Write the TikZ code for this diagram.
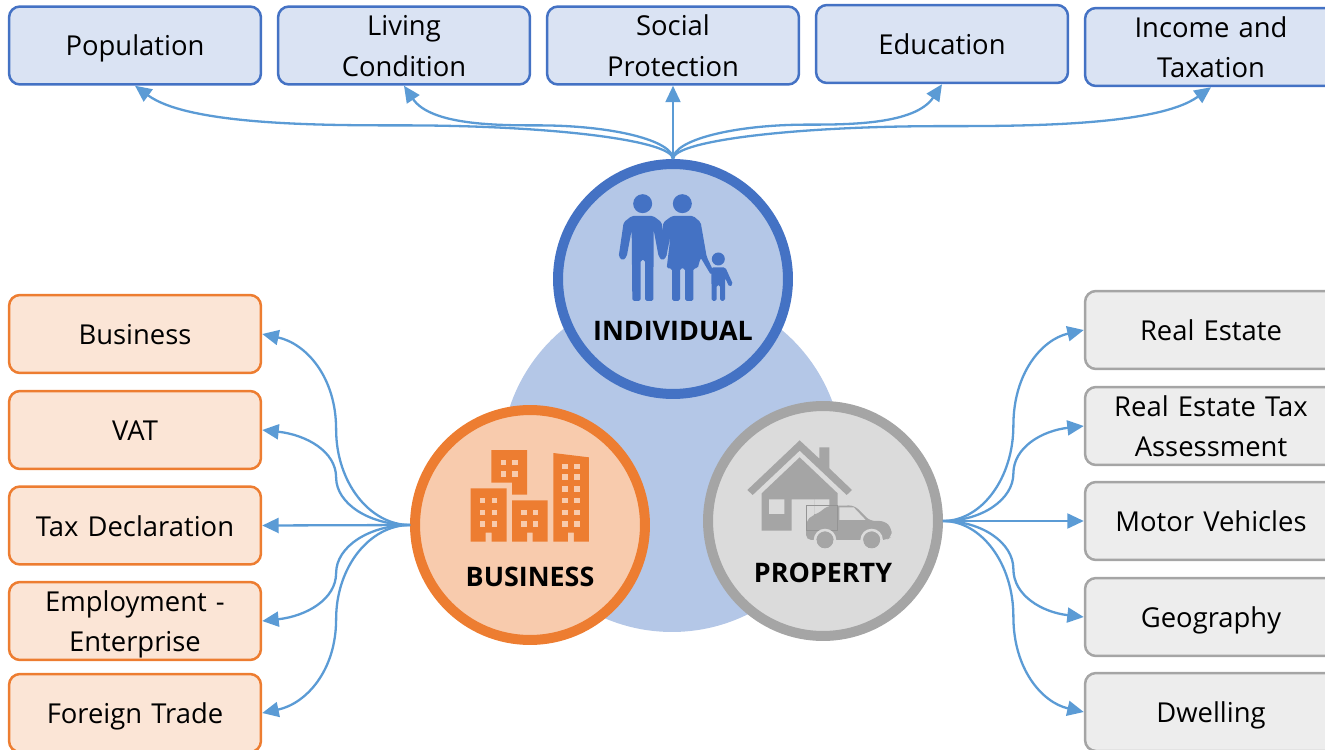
\documentclass[tikz,border=0pt]{standalone}
\usepackage{fontspec}
\setmainfont{Open Sans}
\usetikzlibrary{arrows.meta,calc}
\definecolor{link}{HTML}{5B9BD5}
\definecolor{indline}{HTML}{4472C4}
\definecolor{indfill}{HTML}{B4C7E7}
\definecolor{indbox}{HTML}{DAE3F3}
\definecolor{busline}{HTML}{ED7D31}
\definecolor{busfill}{HTML}{F8CBAD}
\definecolor{busbox}{HTML}{FBE5D6}
\definecolor{proline}{HTML}{A5A5A5}
\definecolor{profill}{HTML}{DBDBDB}
\definecolor{probox}{HTML}{EDEDED}
\tikzset{
    topic/.style={draw, line width=0.05cm, rounded corners=0.22cm, minimum width=5.04cm, minimum height=1.56cm, text width=4.8cm, align=center, font=\fontsize{15.6}{23}\selectfont, inner sep=0pt, execute at begin node={\rule{0pt}{15.4pt}}, execute at end node={\rule[-3.4pt]{0pt}{3.4pt}}},
    indtopic/.style={topic, draw=indline, fill=indbox},
    bustopic/.style={topic, draw=busline, fill=busbox},
    protopic/.style={topic, draw=proline, fill=probox},
    hub/.style={circle, line width=0.2cm, minimum size=4.6cm, inner sep=0pt},
    hublabel/.style={font=\fontsize{15.3}{18}\selectfont\bfseries, inner sep=0pt},
    flow/.style={link, line width=0.046cm, -{Triangle[length=0.33cm,width=0.3cm]}}
}
\begin{document}
\begin{tikzpicture}[x=0.02cm,y=-0.02cm]
    \useasboundingbox (0,0) rectangle (1325,750);

    % Centre disc
    \fill[indfill] (672,461) circle (3.42cm);

    % Topic boxes
    \node[indtopic] (population) at (135,45.5) {Population};
    \node[indtopic] (living) at (404,45.5) {Living\\Condition};
    \node[indtopic] (social) at (673,45.5) {Social\\Protection};
    \node[indtopic] (education) at (942,44) {Education};
    \node[indtopic] (income) at (1211,47) {Income and\\Taxation};

    \node[bustopic] (business) at (135,334) {Business};
    \node[bustopic] (vat) at (135,430) {VAT};
    \node[bustopic] (tax) at (135,525.5) {Tax Declaration};
    \node[bustopic] (employment) at (135,621) {Employment -\\Enterprise};
    \node[bustopic] (foreign) at (135,713) {Foreign Trade};

    \node[protopic] (realestate) at (1211,330) {Real Estate};
    \node[protopic] (assessment) at (1211,426) {Real Estate Tax\\Assessment};
    \node[protopic] (motor) at (1211,521) {Motor Vehicles};
    \node[protopic] (geography) at (1211,617) {Geography};
    \node[protopic] (dwelling) at (1211,712) {Dwelling};

    % Hubs
    \node[hub, draw=indline, fill=indfill] (individual) at (673,279) {};
    \node[hub, draw=busline, fill=busfill] (company) at (530,525) {};
    \node[hub, draw=proline, fill=profill] (property) at (823,521) {};

    \node[hublabel] (individuallabel) at (673,331) {INDIVIDUAL};
    \node[hublabel] (companylabel) at (530,577) {BUSINESS};
    \node[hublabel] (propertylabel) at (823,573) {PROPERTY};

    % Connectors
    \foreach \t in {population,living,education,income} {
        \coordinate (a) at (individual.north);
        \coordinate (b) at (\t.south);
        \coordinate (m) at ($(a)!0.5!(b)+(0,3)$);
        \draw[flow] (a) .. controls ($(a)!0.55!(a |- m)$) and ($(m)!0.55!(a |- m)$) .. (m)
            .. controls ($(m)!0.3!(b |- m)$) and ($(b |- m)!0.2!(m)$) .. (b);
    }
    \draw[flow] (individual.north) -- (social.south);
    \foreach \t in {business,vat,employment,foreign} {
        \coordinate (a) at (company.west);
        \coordinate (b) at (\t.east);
        \coordinate (m) at ($(a)!0.5!(b)$);
        \draw[flow] (a) .. controls ($(a)!0.55!(m |- a)$) and ($(m)!0.55!(m |- a)$) .. (m)
            .. controls ($(m)!0.55!(m |- b)$) and ($(b)!0.55!(m |- b)!0.1!(m)$) .. (b);
    }
    \draw[flow] (company.west) -- (tax.east);
    \foreach \t in {realestate,assessment,geography,dwelling} {
        \coordinate (a) at (property.east);
        \coordinate (b) at (\t.west);
        \coordinate (m) at ($(a)!0.5!(b)$);
        \draw[flow] (a) .. controls ($(a)!0.55!(m |- a)$) and ($(m)!0.55!(m |- a)$) .. (m)
            .. controls ($(m)!0.55!(m |- b)$) and ($(b)!0.55!(m |- b)!0.1!(m)$) .. (b);
    }
    \draw[flow] (property.east) -- (motor.west);

    % People
    \begin{scope}[shift={(610,185)},x=0.02cm/3,y=-0.02cm/3]
        \fill[indline] (98,56) circle (0.19cm) (217,56) circle (0.19cm) (325,222) circle (0.13cm);
        \fill[indline, rounded corners=1pt] (65,93) -- (130,93) -- (155,112) -- (170,215) -- (157,227) -- (146,215) -- (131,135) -- (130,348) -- (105,348) -- (105,225) -- (92,225) -- (92,348) -- (67,348) -- (65,135) -- (50,215) -- (38,227) -- (26,215) -- (41,112) -- cycle;
        \fill[indline, rounded corners=1pt] (186,93) -- (250,93) -- (272,112) -- (290,215) -- (312,262) -- (303,270) -- (272,218) -- (263,250) -- (250,250) -- (250,348) -- (225,348) -- (225,250) -- (210,250) -- (210,348) -- (186,348) -- (186,250) -- (170,250) -- (182,150) -- (168,218) -- (157,150) -- (160,112) -- cycle;
        \fill[indline, rounded corners=1pt] (304,247) -- (346,247) -- (369,298) -- (358,306) -- (345,278) -- (345,348) -- (330,348) -- (330,300) -- (320,300) -- (320,348) -- (305,348) -- cycle;
    \end{scope}

    % Buildings
    \begin{scope}[shift={(400,400)},x=0.02cm/3,y=-0.02cm/3]
        \fill[busline] (274,150) -- (381,150) -- (381,284) -- (336,284) -- (336,248) -- (274,248) -- cycle;
        \fill[busline] (212,265) -- (320,265) -- (320,425) -- (275,425) -- (275,398) -- (257,398) -- (257,425) -- (212,425) -- cycle;
        \fill[busline] (336,301) -- (443,301) -- (443,425) -- (398,425) -- (398,398) -- (381,398) -- (381,425) -- (336,425) -- cycle;
        \fill[busline] (460,159) -- (567,172) -- (567,425) -- (522,425) -- (522,398) -- (504,398) -- (504,425) -- (460,425) -- cycle;
        \foreach \wx/\wy in {302/179,337/179,302/213,337/213,239/293,275/293,239/329,275/329,239/364,275/364,363/329,398/329,363/364,398/364,487/191,522/191,487/222,522/222,487/258,522/258,487/293,522/293,487/329,522/329,487/364,522/364}
            \fill[busfill] (\wx,\wy) rectangle ++(17,17);
    \end{scope}

    % House and car
    \begin{scope}[shift={(695,400)},x=0.02cm/3,y=-0.02cm/3]
        \fill[proline] (157,270) -- (314,121) -- (373,176) -- (373,142) -- (403,142) -- (403,205) -- (471,270) -- (455,285) -- (314,152) -- (173,285) -- cycle;
        \fill[proline] (200,280) -- (314,172) -- (428,280) -- (428,392) -- (358,392) -- (358,298) -- (290,298) -- (290,392) -- (200,392) -- cycle;
        \fill[profill] (222,298) rectangle (268,342) (358,298) rectangle (403,342);
        \fill[proline, rounded corners=3pt] (333,420) -- (333,365) -- (352,345) -- (372,340) -- (395,318) -- (478,316) -- (525,363) -- (570,363) -- (590,385) -- (590,410) -- (575,420) -- cycle;
        \fill[profill] (433,322) -- (476,322) -- (512,360) -- (433,360) -- cycle;
        \draw[proline!90!black, line width=0.01cm] (335,316) rectangle (428,390);
        \fill[proline] (390,420) circle (0.17cm) (530,420) circle (0.17cm);
        \draw[profill, line width=0.05cm] (390,420) circle (0.2cm) (530,420) circle (0.2cm);
    \end{scope}
\end{tikzpicture}
\end{document}
